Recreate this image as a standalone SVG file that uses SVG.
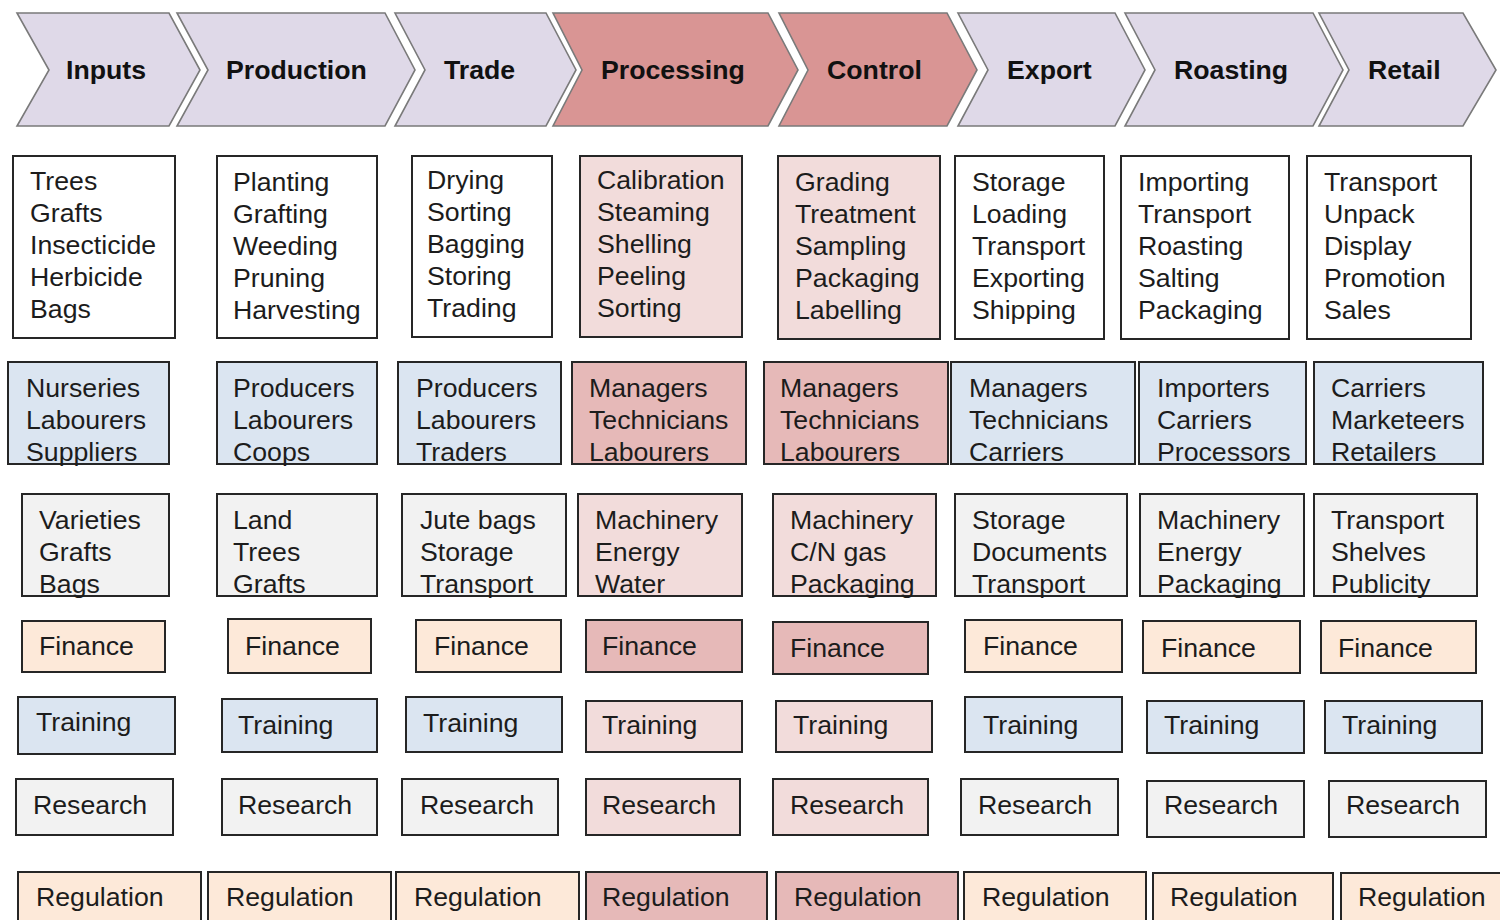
<svg xmlns="http://www.w3.org/2000/svg" width="1500" height="920" viewBox="0 0 1500 920">
<style>
.chev{stroke:#7a7a7a;stroke-width:1.6;stroke-linejoin:miter}
.lav{fill:#dfd9e8}
.red{fill:#d99594}
.box{stroke:#262626;stroke-width:2}
.w{fill:#ffffff}
.pl{fill:#f2dcdb}
.pm{fill:#e6b9b8}
.bl{fill:#dbe5f1}
.gr{fill:#f2f2f2}
.pe{fill:#fde9d9}
.h{font-family:"Liberation Sans",Arial,sans-serif;font-size:26.7px;font-weight:bold;fill:#111}
.t{font-family:"Liberation Sans",Arial,sans-serif;font-size:26.7px;fill:#1c1c1c}
</style>
<rect width="1500" height="920" fill="#ffffff"/>

<g id="stages">
<g id="stage-inputs"><polygon class="chev lav" points="17,13 169,13 200,70 169,126 17,126 49,70"/><text class="h" x="66" y="79">Inputs</text></g>
<g id="stage-production"><polygon class="chev lav" points="177,13 385,13 415,70 385,126 177,126 208,70"/><text class="h" x="226" y="79">Production</text></g>
<g id="stage-trade"><polygon class="chev lav" points="395,13 546,13 576,70 546,126 395,126 425,70"/><text class="h" x="444" y="79">Trade</text></g>
<g id="stage-processing"><polygon class="chev red" points="553,13 768,13 798,70 768,126 553,126 582,70"/><text class="h" x="601" y="79">Processing</text></g>
<g id="stage-control"><polygon class="chev red" points="779,13 947,13 977,70 947,126 779,126 808,70"/><text class="h" x="827" y="79">Control</text></g>
<g id="stage-export"><polygon class="chev lav" points="958,13 1115,13 1145,70 1115,126 958,126 988,70"/><text class="h" x="1007" y="79">Export</text></g>
<g id="stage-roasting"><polygon class="chev lav" points="1125,13 1313,13 1343,70 1313,126 1125,126 1155,70"/><text class="h" x="1174" y="79">Roasting</text></g>
<g id="stage-retail"><polygon class="chev lav" points="1319,13 1463,13 1496,70 1463,126 1319,126 1349,70"/><text class="h" x="1368" y="79">Retail</text></g>
</g>

<g id="activities">
<g id="act-1"><rect class="box w" x="13" y="156" width="162" height="182"/><text class="t" x="30" y="190"><tspan x="30">Trees</tspan><tspan x="30" dy="32">Grafts</tspan><tspan x="30" dy="32">Insecticide</tspan><tspan x="30" dy="32">Herbicide</tspan><tspan x="30" dy="32">Bags</tspan></text></g>
<g id="act-2"><rect class="box w" x="217" y="156" width="160" height="182"/><text class="t" x="233" y="191"><tspan x="233">Planting</tspan><tspan x="233" dy="32">Grafting</tspan><tspan x="233" dy="32">Weeding</tspan><tspan x="233" dy="32">Pruning</tspan><tspan x="233" dy="32">Harvesting</tspan></text></g>
<g id="act-3"><rect class="box w" x="412" y="156" width="140" height="181"/><text class="t" x="427" y="189"><tspan x="427">Drying</tspan><tspan x="427" dy="32">Sorting</tspan><tspan x="427" dy="32">Bagging</tspan><tspan x="427" dy="32">Storing</tspan><tspan x="427" dy="32">Trading</tspan></text></g>
<g id="act-4"><rect class="box pl" x="580" y="156" width="162" height="181"/><text class="t" x="597" y="189"><tspan x="597">Calibration</tspan><tspan x="597" dy="32">Steaming</tspan><tspan x="597" dy="32">Shelling</tspan><tspan x="597" dy="32">Peeling</tspan><tspan x="597" dy="32">Sorting</tspan></text></g>
<g id="act-5"><rect class="box pl" x="778" y="156" width="162" height="183"/><text class="t" x="795" y="191"><tspan x="795">Grading</tspan><tspan x="795" dy="32">Treatment</tspan><tspan x="795" dy="32">Sampling</tspan><tspan x="795" dy="32">Packaging</tspan><tspan x="795" dy="32">Labelling</tspan></text></g>
<g id="act-6"><rect class="box w" x="955" y="156" width="149" height="183"/><text class="t" x="972" y="191"><tspan x="972">Storage</tspan><tspan x="972" dy="32">Loading</tspan><tspan x="972" dy="32">Transport</tspan><tspan x="972" dy="32">Exporting</tspan><tspan x="972" dy="32">Shipping</tspan></text></g>
<g id="act-7"><rect class="box w" x="1121" y="156" width="168" height="183"/><text class="t" x="1138" y="191"><tspan x="1138">Importing</tspan><tspan x="1138" dy="32">Transport</tspan><tspan x="1138" dy="32">Roasting</tspan><tspan x="1138" dy="32">Salting</tspan><tspan x="1138" dy="32">Packaging</tspan></text></g>
<g id="act-8"><rect class="box w" x="1307" y="156" width="164" height="183"/><text class="t" x="1324" y="191"><tspan x="1324">Transport</tspan><tspan x="1324" dy="32">Unpack</tspan><tspan x="1324" dy="32">Display</tspan><tspan x="1324" dy="32">Promotion</tspan><tspan x="1324" dy="32">Sales</tspan></text></g>
</g>

<g id="actors">
<g id="actor-1"><rect class="box bl" x="8" y="362" width="161" height="102"/><text class="t" x="26" y="397"><tspan x="26">Nurseries</tspan><tspan x="26" dy="32">Labourers</tspan><tspan x="26" dy="32">Suppliers</tspan></text></g>
<g id="actor-2"><rect class="box bl" x="217" y="362" width="160" height="102"/><text class="t" x="233" y="397"><tspan x="233">Producers</tspan><tspan x="233" dy="32">Labourers</tspan><tspan x="233" dy="32">Coops</tspan></text></g>
<g id="actor-3"><rect class="box bl" x="398" y="362" width="163" height="102"/><text class="t" x="416" y="397"><tspan x="416">Producers</tspan><tspan x="416" dy="32">Labourers</tspan><tspan x="416" dy="32">Traders</tspan></text></g>
<g id="actor-4"><rect class="box pm" x="572" y="362" width="174" height="102"/><text class="t" x="589" y="397"><tspan x="589">Managers</tspan><tspan x="589" dy="32">Technicians</tspan><tspan x="589" dy="32">Labourers</tspan></text></g>
<g id="actor-5"><rect class="box pm" x="764" y="362" width="184" height="102"/><text class="t" x="780" y="397"><tspan x="780">Managers</tspan><tspan x="780" dy="32">Technicians</tspan><tspan x="780" dy="32">Labourers</tspan></text></g>
<g id="actor-6"><rect class="box bl" x="951" y="362" width="184" height="102"/><text class="t" x="969" y="397"><tspan x="969">Managers</tspan><tspan x="969" dy="32">Technicians</tspan><tspan x="969" dy="32">Carriers</tspan></text></g>
<g id="actor-7"><rect class="box bl" x="1139" y="362" width="167" height="102"/><text class="t" x="1157" y="397"><tspan x="1157">Importers</tspan><tspan x="1157" dy="32">Carriers</tspan><tspan x="1157" dy="32">Processors</tspan></text></g>
<g id="actor-8"><rect class="box bl" x="1314" y="362" width="169" height="102"/><text class="t" x="1331" y="397"><tspan x="1331">Carriers</tspan><tspan x="1331" dy="32">Marketeers</tspan><tspan x="1331" dy="32">Retailers</tspan></text></g>
</g>

<g id="resources">
<g id="res-1"><rect class="box gr" x="22" y="494" width="147" height="102"/><text class="t" x="39" y="529"><tspan x="39">Varieties</tspan><tspan x="39" dy="32">Grafts</tspan><tspan x="39" dy="32">Bags</tspan></text></g>
<g id="res-2"><rect class="box gr" x="217" y="494" width="160" height="102"/><text class="t" x="233" y="529"><tspan x="233">Land</tspan><tspan x="233" dy="32">Trees</tspan><tspan x="233" dy="32">Grafts</tspan></text></g>
<g id="res-3"><rect class="box gr" x="402" y="494" width="164" height="102"/><text class="t" x="420" y="529"><tspan x="420">Jute bags</tspan><tspan x="420" dy="32">Storage</tspan><tspan x="420" dy="32">Transport</tspan></text></g>
<g id="res-4"><rect class="box pl" x="578" y="494" width="164" height="102"/><text class="t" x="595" y="529"><tspan x="595">Machinery</tspan><tspan x="595" dy="32">Energy</tspan><tspan x="595" dy="32">Water</tspan></text></g>
<g id="res-5"><rect class="box pl" x="773" y="494" width="163" height="102"/><text class="t" x="790" y="529"><tspan x="790">Machinery</tspan><tspan x="790" dy="32">C/N gas</tspan><tspan x="790" dy="32">Packaging</tspan></text></g>
<g id="res-6"><rect class="box gr" x="955" y="494" width="172" height="102"/><text class="t" x="972" y="529"><tspan x="972">Storage</tspan><tspan x="972" dy="32">Documents</tspan><tspan x="972" dy="32">Transport</tspan></text></g>
<g id="res-7"><rect class="box gr" x="1140" y="494" width="164" height="102"/><text class="t" x="1157" y="529"><tspan x="1157">Machinery</tspan><tspan x="1157" dy="32">Energy</tspan><tspan x="1157" dy="32">Packaging</tspan></text></g>
<g id="res-8"><rect class="box gr" x="1314" y="494" width="163" height="102"/><text class="t" x="1331" y="529"><tspan x="1331">Transport</tspan><tspan x="1331" dy="32">Shelves</tspan><tspan x="1331" dy="32">Publicity</tspan></text></g>
</g>

<g id="finance">
<g id="fin-1"><rect class="box pe" x="22" y="621" width="143" height="51"/><text class="t" x="39" y="655">Finance</text></g>
<g id="fin-2"><rect class="box pe" x="228" y="619" width="143" height="54"/><text class="t" x="245" y="655">Finance</text></g>
<g id="fin-3"><rect class="box pe" x="416" y="620" width="145" height="52"/><text class="t" x="434" y="655">Finance</text></g>
<g id="fin-4"><rect class="box pm" x="586" y="620" width="156" height="52"/><text class="t" x="602" y="655">Finance</text></g>
<g id="fin-5"><rect class="box pm" x="773" y="622" width="155" height="52"/><text class="t" x="790" y="657">Finance</text></g>
<g id="fin-6"><rect class="box pe" x="965" y="620" width="157" height="52"/><text class="t" x="983" y="655">Finance</text></g>
<g id="fin-7"><rect class="box pe" x="1143" y="621" width="157" height="52"/><text class="t" x="1161" y="657">Finance</text></g>
<g id="fin-8"><rect class="box pe" x="1321" y="621" width="155" height="52"/><text class="t" x="1338" y="657">Finance</text></g>
</g>

<g id="training">
<g id="trn-1"><rect class="box bl" x="18" y="697" width="157" height="57"/><text class="t" x="36" y="731">Training</text></g>
<g id="trn-2"><rect class="box bl" x="222" y="699" width="155" height="53"/><text class="t" x="238" y="734">Training</text></g>
<g id="trn-3"><rect class="box bl" x="406" y="697" width="156" height="55"/><text class="t" x="423" y="732">Training</text></g>
<g id="trn-4"><rect class="box pl" x="586" y="701" width="156" height="51"/><text class="t" x="602" y="734">Training</text></g>
<g id="trn-5"><rect class="box pl" x="776" y="701" width="156" height="51"/><text class="t" x="793" y="734">Training</text></g>
<g id="trn-6"><rect class="box bl" x="965" y="697" width="157" height="55"/><text class="t" x="983" y="734">Training</text></g>
<g id="trn-7"><rect class="box bl" x="1147" y="701" width="157" height="52"/><text class="t" x="1164" y="734">Training</text></g>
<g id="trn-8"><rect class="box bl" x="1325" y="701" width="157" height="52"/><text class="t" x="1342" y="734">Training</text></g>
</g>

<g id="research">
<g id="rsc-1"><rect class="box gr" x="16" y="779" width="157" height="56"/><text class="t" x="33" y="814">Research</text></g>
<g id="rsc-2"><rect class="box gr" x="222" y="779" width="155" height="56"/><text class="t" x="238" y="814">Research</text></g>
<g id="rsc-3"><rect class="box gr" x="402" y="779" width="156" height="56"/><text class="t" x="420" y="814">Research</text></g>
<g id="rsc-4"><rect class="box pl" x="586" y="779" width="154" height="56"/><text class="t" x="602" y="814">Research</text></g>
<g id="rsc-5"><rect class="box pl" x="773" y="779" width="155" height="56"/><text class="t" x="790" y="814">Research</text></g>
<g id="rsc-6"><rect class="box gr" x="961" y="779" width="157" height="56"/><text class="t" x="978" y="814">Research</text></g>
<g id="rsc-7"><rect class="box gr" x="1147" y="781" width="157" height="56"/><text class="t" x="1164" y="814">Research</text></g>
<g id="rsc-8"><rect class="box gr" x="1329" y="781" width="157" height="56"/><text class="t" x="1346" y="814">Research</text></g>
</g>

<g id="regulation">
<g id="reg-1"><rect class="box pe" x="18" y="872" width="183" height="60"/><text class="t" x="36" y="906">Regulation</text></g>
<g id="reg-2"><rect class="box pe" x="208" y="872" width="183" height="60"/><text class="t" x="226" y="906">Regulation</text></g>
<g id="reg-3"><rect class="box pe" x="396" y="872" width="183" height="60"/><text class="t" x="414" y="906">Regulation</text></g>
<g id="reg-4"><rect class="box pm" x="586" y="872" width="181" height="60"/><text class="t" x="602" y="906">Regulation</text></g>
<g id="reg-5"><rect class="box pm" x="776" y="872" width="182" height="60"/><text class="t" x="794" y="906">Regulation</text></g>
<g id="reg-6"><rect class="box pe" x="964" y="872" width="182" height="60"/><text class="t" x="982" y="906">Regulation</text></g>
<g id="reg-7"><rect class="box pe" x="1153" y="873" width="180" height="60"/><text class="t" x="1170" y="906">Regulation</text></g>
<g id="reg-8"><rect class="box pe" x="1341" y="873" width="162" height="60"/><text class="t" x="1358" y="906">Regulation</text></g>
</g>

<g id="connectors"/>
</svg>
